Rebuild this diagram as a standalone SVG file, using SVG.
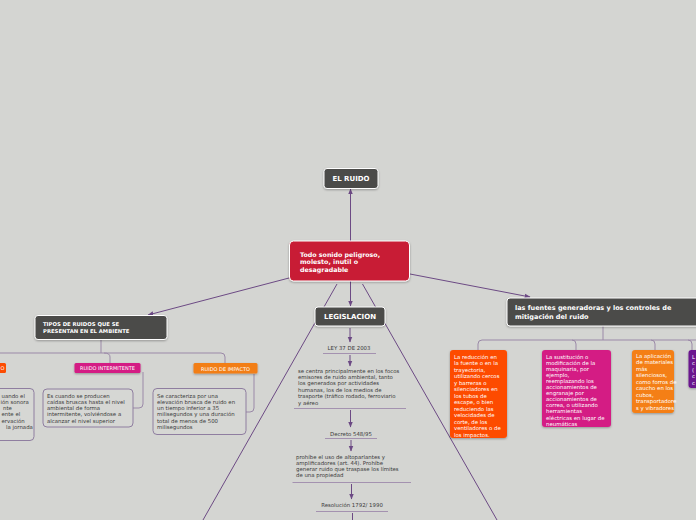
<svg xmlns="http://www.w3.org/2000/svg" width="696" height="520" viewBox="0 0 696 520">
<defs>
<style>
text{text-rendering:geometricPrecision}
.bg{fill:#d4d5d2}
.dark{fill:#4b4b49;stroke:#ffffff;stroke-width:1}
.hb{font-family:"DejaVu Sans","Verdana",sans-serif;font-weight:bold;fill:#ffffff}
.body{font-family:"DejaVu Sans","Verdana",sans-serif;font-size:5.4px;fill:#3a3a3a}
.wb{font-family:"DejaVu Sans","Verdana",sans-serif;font-size:5.4px;fill:#ffffff}
.lbl{font-family:"DejaVu Sans","Verdana",sans-serif;font-size:5px;fill:#ffffff}
.edge{fill:none;stroke:#6c4a84;stroke-width:1}
.br{fill:none;stroke:#9b89a8;stroke-width:1}
.ul{stroke:#a492b0;stroke-width:1}
.tb{fill:#d6d7d4;stroke:#8f7ea0;stroke-width:1}
</style>
<marker id="ah" viewBox="0 0 10 10" refX="9" refY="5" markerWidth="6" markerHeight="6" markerUnits="userSpaceOnUse" orient="auto">
<path d="M0,1 L10,5 L0,9 z" fill="#6c4a84"/>
</marker>
<filter id="sh" x="-10%" y="-10%" width="120%" height="140%">
<feDropShadow dx="0" dy="1" stdDeviation="0.8" flood-color="#000000" flood-opacity="0.3"/>
</filter>
</defs>
<rect class="bg" x="0" y="0" width="696" height="520"/>

<g id="connectors">
<line class="edge" x1="350.5" y1="241" x2="350.5" y2="189" marker-end="url(#ah)"/>
<line class="edge" x1="289" y1="278" x2="148" y2="315" marker-end="url(#ah)"/>
<line class="edge" x1="410" y1="274" x2="530" y2="297" marker-end="url(#ah)"/>
<line class="edge" x1="350.5" y1="281" x2="350.5" y2="306" marker-end="url(#ah)"/>
<line class="edge" x1="337" y1="284" x2="203" y2="520"/>
<line class="edge" x1="362.5" y1="284" x2="497" y2="520"/>
<line class="edge" x1="350" y1="328" x2="350" y2="342" marker-end="url(#ah)"/>
<line class="edge" x1="350" y1="355" x2="350" y2="366" marker-end="url(#ah)"/>
<line class="edge" x1="350.5" y1="410" x2="350.5" y2="427" marker-end="url(#ah)"/>
<line class="edge" x1="351" y1="440" x2="351" y2="451" marker-end="url(#ah)"/>
<line class="edge" x1="351.5" y1="484" x2="351.5" y2="499" marker-end="url(#ah)"/>
<line class="edge" x1="352.5" y1="513" x2="352.5" y2="521"/>
<path class="br" d="M101,339 V353"/>
<path class="br" d="M0,353 H221 Q225,353 225,357 V363"/>
<path class="br" d="M104,353 Q110,353 110,357 V363"/>
<path class="br" d="M143,372 V404 Q143,408 139,408 H133"/>
<path class="br" d="M254,374 V408 Q254,412 250,412 H246"/>
<path class="br" d="M603,326 V340"/>
<path class="br" d="M478,350 V344 Q478,340 482,340 H696"/>
<path class="br" d="M572,340 Q576,340 576,344 V350"/>
<path class="br" d="M651,340 Q655,340 655,344 V350"/>
<path class="br" d="M688,340 Q692,340 692,344 V350"/>
</g>

<g id="el-ruido">
<rect class="dark" x="324" y="168.5" width="54" height="20" rx="3" filter="url(#sh)"/>
<text class="hb" x="351" y="181" font-size="7" text-anchor="middle">EL RUIDO</text>
</g>

<g id="central">
<rect x="289.5" y="241" width="120" height="40" rx="4" fill="#c81f36" stroke="#ffffff" stroke-width="1" filter="url(#sh)"/>
<text class="hb" font-size="6.3"><tspan x="300" y="256.5">Todo sonido peligroso,</tspan><tspan x="300" y="264">molesto, inutil o</tspan><tspan x="300" y="271.5">desagradable</tspan></text>
</g>

<g id="tipos">
<rect class="dark" x="35" y="315.5" width="132" height="24" rx="3" filter="url(#sh)"/>
<text class="hb" font-size="5.3"><tspan x="43" y="326">TIPOS DE RUIDOS QUE SE</tspan><tspan x="43" y="333">PRESENTAN EN EL AMBIENTE</tspan></text>
</g>

<g id="ruido-continuo">
<rect x="-40" y="363" width="46" height="10" rx="1.5" fill="#fc4c02"/>
<text class="lbl" x="0.5" y="370">O</text>
</g>

<g id="ruido-continuo-desc">
<rect class="tb" x="-20" y="388.5" width="54" height="52" rx="4"/>
<text class="body"><tspan x="1.5" y="397.5">uando el</tspan><tspan x="0.5" y="403.8">ión sonora</tspan><tspan x="3" y="410.1">nte</tspan><tspan x="1.5" y="416.4">ente el</tspan><tspan x="1.5" y="422.7">ervación</tspan><tspan x="6" y="429">la jornada</tspan></text>
</g>

<g id="ruido-intermitente">
<rect x="74.5" y="363" width="66" height="10" rx="1.5" fill="#d41c84" filter="url(#sh)"/>
<text class="lbl" x="107.5" y="370" text-anchor="middle">RUIDO INTERMITENTE</text>
</g>

<g id="ruido-intermitente-desc">
<rect class="tb" x="43" y="389" width="90" height="38" rx="4"/>
<text class="body"><tspan x="47" y="397.5">Es cuando se producen</tspan><tspan x="47" y="403.8">caídas bruscas hasta el nivel</tspan><tspan x="47" y="410.1">ambiental de forma</tspan><tspan x="47" y="416.4">intermitente, volviéndose a</tspan><tspan x="47" y="422.7">alcanzar el nivel superior</tspan></text>
</g>

<g id="ruido-impacto">
<rect x="193.5" y="363" width="64" height="10.5" rx="1.5" fill="#f27e14" filter="url(#sh)"/>
<text class="lbl" x="225.5" y="370.5" text-anchor="middle">RUIDO DE IMPACTO</text>
</g>

<g id="ruido-impacto-desc">
<rect class="tb" x="153" y="388.5" width="93" height="46" rx="4"/>
<text class="body"><tspan x="157" y="397.5">Se caracteriza por una</tspan><tspan x="157" y="403.8">elevación brusca de ruido en</tspan><tspan x="157" y="410.1">un tiempo inferior a 35</tspan><tspan x="157" y="416.4">milisegundos y una duración</tspan><tspan x="157" y="422.7">total de menos de 500</tspan><tspan x="157" y="429">milisegundos</tspan></text>
</g>

<g id="legislacion">
<rect class="dark" x="315" y="307" width="70" height="19" rx="3" filter="url(#sh)"/>
<text class="hb" x="350" y="319" font-size="7" text-anchor="middle">LEGISLACION</text>
</g>

<g id="ley37">
<text class="body" x="349" y="349.5" text-anchor="middle">LEY 37 DE 2003</text>
<line class="ul" x1="323" y1="353.5" x2="376" y2="353.5"/>
</g>

<g id="ley37-desc">
<text class="body"><tspan x="298" y="372.5">se centra principalmente en los focos</tspan><tspan x="298" y="378.9">emisores de ruido ambiental, tanto</tspan><tspan x="298" y="385.3">los generados por actividades</tspan><tspan x="298" y="391.7">humanas, los de los medios de</tspan><tspan x="298" y="398.1">trasporte (tráfico rodado, ferroviario</tspan><tspan x="298" y="404.5">y aéreo</tspan></text>
<line class="ul" x1="294" y1="408.5" x2="406" y2="408.5"/>
</g>

<g id="decreto">
<text class="body" x="351" y="436" text-anchor="middle">Decreto 548/95</text>
<line class="ul" x1="325" y1="438.5" x2="377" y2="438.5"/>
</g>

<g id="decreto-desc">
<text class="body"><tspan x="296" y="458.5">prohíbe el uso de altoparlantes y</tspan><tspan x="296" y="464.7">amplificadores (art. 44). Prohíbe</tspan><tspan x="296" y="470.9">generar ruido que traspase los límites</tspan><tspan x="296" y="477.1">de una propiedad</tspan></text>
<line class="ul" x1="292.5" y1="482.5" x2="411" y2="482.5"/>
</g>

<g id="resolucion">
<text class="body" x="352" y="506.5" text-anchor="middle">Resolución 1792/ 1990</text>
<line class="ul" x1="316" y1="511.5" x2="388" y2="511.5"/>
</g>

<g id="fuentes">
<rect class="dark" x="507" y="298" width="195" height="28" rx="3" filter="url(#sh)"/>
<text class="hb" font-size="6.5"><tspan x="515" y="310">las fuentes generadoras y los controles de</tspan><tspan x="515" y="319">mitigación del ruido</tspan></text>
</g>

<g id="reduccion">
<rect x="450" y="350" width="57" height="88" rx="3" fill="#fd4c03" filter="url(#sh)"/>
<text class="wb"><tspan x="454" y="358.5">La reducción en</tspan><tspan x="454" y="365">la fuente o en la</tspan><tspan x="454" y="371.5">trayectoria,</tspan><tspan x="454" y="378">utilizando cercos</tspan><tspan x="454" y="384.5">y barreras o</tspan><tspan x="454" y="391">silenciadores en</tspan><tspan x="454" y="397.5">los tubos de</tspan><tspan x="454" y="404">escape, o bien</tspan><tspan x="454" y="410.5">reduciendo las</tspan><tspan x="454" y="417">velocidades de</tspan><tspan x="454" y="423.5">corte, de los</tspan><tspan x="454" y="430">ventiladores o de</tspan><tspan x="454" y="436.5">los impactos.</tspan></text>
</g>

<g id="sustitucion">
<rect x="542" y="350" width="69" height="77" rx="3" fill="#d41c84" filter="url(#sh)"/>
<text class="wb"><tspan x="546" y="358.5">La sustitución o</tspan><tspan x="546" y="364.6">modificación de la</tspan><tspan x="546" y="370.7">maquinaria, por</tspan><tspan x="546" y="376.8">ejemplo,</tspan><tspan x="546" y="382.9">reemplazando los</tspan><tspan x="546" y="389">accionamientos de</tspan><tspan x="546" y="395.1">engranaje por</tspan><tspan x="546" y="401.2">accionamientos de</tspan><tspan x="546" y="407.3">correa, o utilizando</tspan><tspan x="546" y="413.4">herramientas</tspan><tspan x="546" y="419.5">eléctricas en lugar de</tspan><tspan x="546" y="425.6">neumáticas</tspan></text>
</g>

<g id="aplicacion">
<rect x="632" y="350" width="42" height="63" rx="3" fill="#f47f16" filter="url(#sh)"/>
<text class="wb"><tspan x="636" y="357.5">La aplicación</tspan><tspan x="636" y="364">de materiales</tspan><tspan x="636" y="370.5">más</tspan><tspan x="636" y="377">silenciosos,</tspan><tspan x="636" y="383.5">como forros de</tspan><tspan x="636" y="390">caucho en los</tspan><tspan x="636" y="396.5">cubos,</tspan><tspan x="636" y="403">transportadore</tspan><tspan x="636" y="409.5">s y vibradores</tspan></text>
</g>

<g id="purple-node">
<rect x="688.5" y="350" width="20" height="38" rx="3" fill="#6a128e" filter="url(#sh)"/>
<text class="wb"><tspan x="692" y="358.5">L</tspan><tspan x="692" y="365">c</tspan><tspan x="692" y="371.5">(</tspan><tspan x="692" y="378">c</tspan><tspan x="692" y="384.5">c</tspan></text>
</g>
</svg>
